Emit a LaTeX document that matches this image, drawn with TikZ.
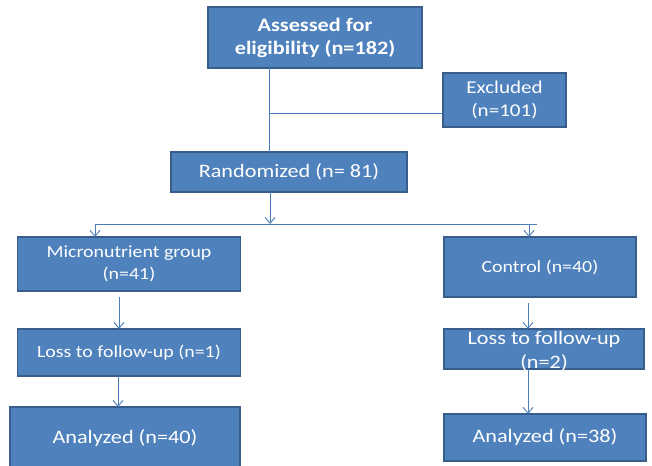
\documentclass[tikz,border=0pt]{standalone}
\usepackage{fontspec}
\setmainfont{Carlito}[FakeStretch=1.17]
\usetikzlibrary{arrows.meta}
\definecolor{boxfill}{HTML}{4F81BD}
\definecolor{boxline}{HTML}{385D8A}
\definecolor{conn}{HTML}{4A7EBB}
\tikzset{
  box/.style={draw=boxline, line width=1.8pt, fill=boxfill, text=white, inner sep=0pt, outer sep=0pt, align=center},
  fa/.style={font=\fontsize{17}{22}\selectfont},
  fb/.style={font=\fontsize{19}{24}\selectfont},
  line/.style={draw=conn, line width=0.9pt},
  arr/.style={line, -{Straight Barb[length=6pt,width=10pt,line width=0.9pt]}}
}
\begin{document}
\begin{tikzpicture}[x=1pt,y=-1pt]
\useasboundingbox (0,0) rectangle (652,465);
\node[box, minimum width=214pt, minimum height=61pt, font=\bfseries\fontsize{19}{23}\selectfont] (assess) at (315,37.5) {Assessed for\\eligibility (n=182)};
\node[box, minimum width=123pt, minimum height=54pt, font=\fontsize{18}{23}\selectfont] (excl) at (504.5,100) {Excluded\\(n=101)};
\node[box, fb, minimum width=236pt, minimum height=40pt] (rand) at (289,172) {Randomized (n= 81)};
\node[box, fa, minimum width=223pt, minimum height=54pt] (micro) at (129,264) {Micronutrient group\\(n=41)};
\node[box, fa, minimum width=192pt, minimum height=60pt] (ctrl) at (540,267) {Control (n=40)};
\node[box, fa, minimum width=223pt, minimum height=47pt] (loss1) at (129,352.5) {Loss to follow-up (n=1)};
\node[box, minimum width=200pt, minimum height=40pt] (loss2) at (544,349) {};
\node[fb, text=white, align=center, inner sep=0pt] (loss2t) at (544,351) {Loss to follow-up\\(n=2)};
\node[box, fb, minimum width=230pt, minimum height=63pt] (ana1) at (125,438.5) {Analyzed (n=40)};
\node[box, fb, minimum width=202pt, minimum height=47pt] (ana2) at (545,437.5) {Analyzed (n=38)};
% connectors
\coordinate (j1) at (269,113);
\coordinate (rx) at (270,224);
\coordinate (busL) at (95,224);
\coordinate (busR) at (537,224);
\coordinate (cR) at (529,224);
\coordinate (lx) at (119,0);
\coordinate (lx2) at (118,0);
\coordinate (rxx) at (528,0);
\draw[line] (assess.south -| j1) -- (rand.north -| j1);
\draw[line] (j1) -- (j1 -| excl.west);
\draw[arr] (rand.south -| rx) -- (rx);
\draw[line] (busL) -- (busR);
\draw[arr] (busL) -- (micro.north -| busL);
\draw[arr] (cR) -- (ctrl.north -| cR);
\draw[arr] ([yshift=-6pt]micro.south -| lx) -- (loss1.north -| lx);
\draw[arr] (loss1.south -| lx2) -- (ana1.north -| lx2);
\draw[arr] ([yshift=-6pt]ctrl.south -| rxx) -- (loss2.north -| rxx);
\draw[arr] (loss2.south -| rxx) -- (ana2.north -| rxx);
\end{tikzpicture}
\end{document}
